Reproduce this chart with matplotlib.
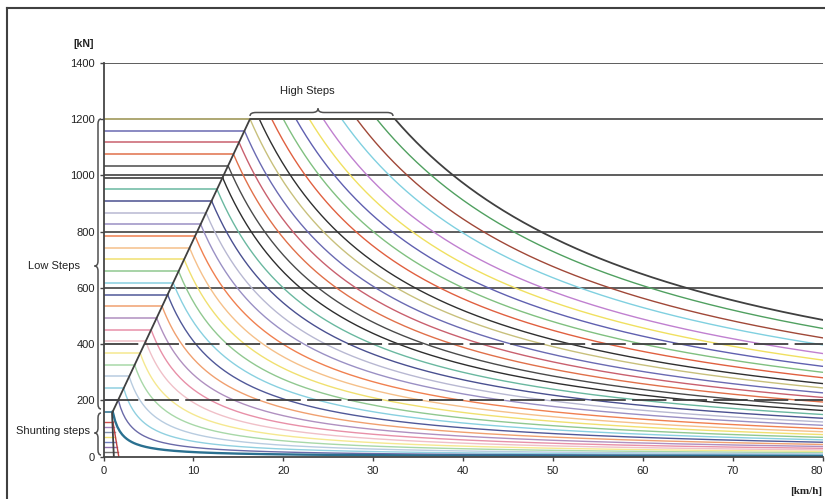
import numpy as np
import matplotlib
matplotlib.use("Agg")
import matplotlib.pyplot as plt
from matplotlib.path import Path
from matplotlib.patches import PathPatch
from matplotlib.lines import Line2D

plt.rcParams['font.family'] = ['Liberation Sans', 'DejaVu Sans']

# ---------------- data ----------------
x_ticks = [0, 10, 20, 30, 40, 50, 60, 70, 80]
y_ticks = [0, 200, 400, 600, 800, 1000, 1200, 1400]
grid_solid_kN = [600, 800, 1000, 1200, 1400]
grid_dashed_kN = [200, 400]

# adhesion / starting limit line (km/h, kN)
adhesion_kmh = [1.15, 0.95, 16.3]
adhesion_kN = [0, 155, 1200]

# maximum tractive effort and the knee of the outer envelope
max_kN = 1200
envelope_knee_kmh = 32.42

# low steps: force level of each step (kN)
low_step_kN = [1200, 1158, 1117, 1075, 1034, 992, 950, 909, 867, 826, 784, 742,
               701, 659, 618, 576, 534, 493, 451, 410, 368, 326, 285, 243, 202, 160]
low_step_colors = ['#c8c07c', '#6a6ab2', '#c9606e', '#e0704a', '#4a4a4a', '#2e2e2e',
                   '#6ab8a0', '#4a5090', '#b8b8d2', '#9a90c4', '#f08050', '#f5c08a',
                   '#f0e070', '#90c890', '#88d0e0', '#505898', '#f0a070', '#b090c0',
                   '#e890a8', '#f0c0c8', '#f5e890', '#a8d8a8', '#b8cce0', '#90d0e0',
                   '#6a6aa8', '#2a7090']

# high steps: speed where each step leaves the 1200 kN line (km/h)
high_step_kmh = [17.33, 18.71, 20.0, 21.41, 22.89, 24.45, 26.5, 28.16, 30.39]
high_step_colors = ['#303030', '#e06040', '#80c080', '#6060b0', '#f0e060',
                    '#c080d0', '#80d0e0', '#a04838', '#50a060']

# shunting steps (kN) and their limit line
shunting_kN = [125, 107, 89, 71, 53, 36, 18]
shunting_colors = ['#d05050', '#a080c0', '#8090b0', '#f0e070', '#7080c0', '#9070b0', '#707070']
shunt_limit_kmh = [1.04, 1.7]
shunt_limit_kN = [125, 0]

# ---------------- figure ----------------
W, H = 825, 499
fig = plt.figure(figsize=(W / 100, H / 100), dpi=100)
fig.patch.set_facecolor('white')

ax_l, ax_r, ax_t, ax_b = 103.5, 822.5, 62.7, 456.7
ax = fig.add_axes([ax_l / W, 1 - ax_b / H, (ax_r - ax_l) / W, (ax_b - ax_t) / H])
ax.set_xlim(0, 80)
ax.set_ylim(0, 1400)
ax.set_facecolor('white')

# grid
for g in grid_solid_kN:
    ax.axhline(g, color='#505050', lw=1.3, zorder=1)
for g in grid_dashed_kN:
    ax.axhline(g, color='#404040', lw=1.3, zorder=4, dashes=(19, 3.5))

# low steps
for F, c in zip(low_step_kN, low_step_colors):
    xk = np.interp(F, adhesion_kN[1:], adhesion_kmh[1:])
    ax.plot([0, xk], [F, F], color=c, lw=1.1, zorder=2)
    v = np.linspace(xk, 80, 300)
    lw = 1.7 if F == low_step_kN[-1] else 1.0
    ax.plot(v, F * xk / v, color=c, lw=lw, zorder=2)

# high steps
for xk, c in zip(high_step_kmh, high_step_colors):
    v = np.linspace(xk, 80, 300)
    ax.plot(v, max_kN * xk / v, color=c, lw=1.0, zorder=2)
ax.plot([adhesion_kmh[-1], envelope_knee_kmh], [max_kN, max_kN], color='#c8c07c', lw=1.2, zorder=2)

# shunting steps
for F, c in zip(shunting_kN, shunting_colors):
    xe = np.interp(F, shunt_limit_kN[::-1], shunt_limit_kmh[::-1])
    ax.plot([0, xe], [F, F], color=c, lw=1.0, zorder=2)
ax.plot(shunt_limit_kmh, shunt_limit_kN, color='#c04040', lw=1.0, zorder=3)

# outer envelope
v = np.linspace(envelope_knee_kmh, 80, 300)
env_x = list(adhesion_kmh) + [envelope_knee_kmh] + list(v)
env_y = list(adhesion_kN) + [max_kN] + list(max_kN * envelope_knee_kmh / v)
ax.plot(env_x, env_y, color='#404040', lw=1.3, zorder=3)

# axes styling
for s in ['top', 'right']:
    ax.spines[s].set_visible(False)
for s in ['left', 'bottom']:
    ax.spines[s].set_color('#454545')
    ax.spines[s].set_linewidth(1.3)
    ax.spines[s].set_zorder(5)
ax.set_xticks(x_ticks)
ax.set_yticks(y_ticks)
ax.tick_params(axis='both', length=3, width=1, color='#454545', labelsize=8, labelcolor='#222222')
ax.tick_params(axis='x', pad=3.5)
ax.tick_params(axis='y', pad=3)
# keep the last x label inside the picture
ax.get_xticklabels()[-1].set_horizontalalignment('right')

# ---------------- annotations (pixel-space layout) ----------------
def P(px, py):
    return (px / W, 1 - py / H)

def brace_vertical(x, ytop, ybot, ytip, w=3.0, d=3.5):
    r = 5
    verts = [(x + w, ytop), (x, ytop), (x, ytop + r),
             (x, ytip - r), (x, ytip), (x - d, ytip),
             (x, ytip), (x, ytip + r),
             (x, ybot - r), (x, ybot), (x + w, ybot)]
    codes = [Path.MOVETO, Path.CURVE3, Path.CURVE3,
             Path.LINETO, Path.CURVE3, Path.CURVE3,
             Path.CURVE3, Path.CURVE3,
             Path.LINETO, Path.CURVE3, Path.CURVE3]
    return verts, codes

def brace_horizontal(y, xl, xr, xtip, h=3.5, d=4.0):
    r = 6
    verts = [(xl, y + h), (xl, y), (xl + r, y),
             (xtip - r, y), (xtip, y), (xtip, y - d),
             (xtip, y), (xtip + r, y),
             (xr - r, y), (xr, y), (xr, y + h)]
    codes = [Path.MOVETO, Path.CURVE3, Path.CURVE3,
             Path.LINETO, Path.CURVE3, Path.CURVE3,
             Path.CURVE3, Path.CURVE3,
             Path.LINETO, Path.CURVE3, Path.CURVE3]
    return verts, codes

for verts, codes in [brace_vertical(98.0, 119, 409, 266),
                     brace_vertical(98.0, 413, 455, 433),
                     brace_horizontal(112.5, 250, 393, 318)]:
    pv = [P(a, b) for a, b in verts]
    patch = PathPatch(Path(pv, codes), transform=fig.transFigure, fill=False,
                      edgecolor='#505050', lw=1.1)
    fig.patches.append(patch)

fig.text(*P(307, 91), 'High Steps', ha='center', va='center', fontsize=8, color='#222222')
fig.text(*P(80, 266), 'Low Steps', ha='right', va='center', fontsize=8, color='#222222')
fig.text(*P(90, 431), 'Shunting steps', ha='right', va='center', fontsize=8, color='#222222')
fig.text(*P(84, 44), '[kN]', ha='center', va='center', fontsize=7.5, fontweight='bold', color='#222222')
fig.text(*P(806, 492), '[km/h]', ha='center', va='center', fontsize=8, fontweight='bold',
         family=['Liberation Serif', 'DejaVu Serif'], color='#222222')

# figure frame (left and top edges)
fig.add_artist(Line2D([7 / W, 7 / W], [0, 1 - 8 / H], transform=fig.transFigure, color='#404040', lw=1.5))
fig.add_artist(Line2D([7 / W, 1], [1 - 8 / H, 1 - 8 / H], transform=fig.transFigure, color='#404040', lw=1.5))

fig.savefig('out.png', dpi=100)
